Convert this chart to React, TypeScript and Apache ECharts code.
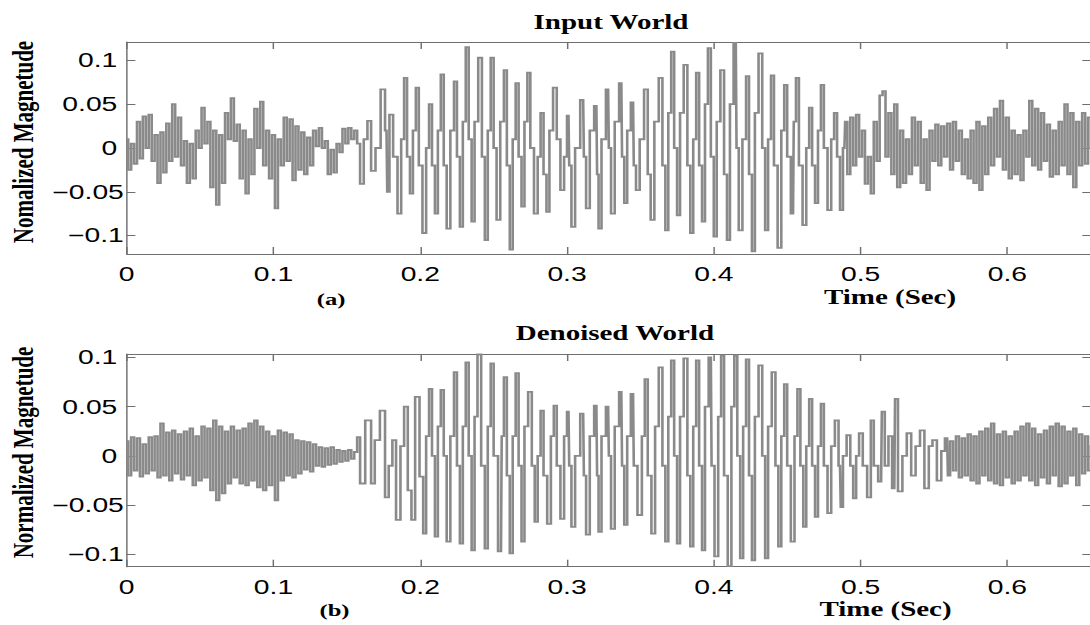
import React, { useEffect, useRef } from "react";
import * as echarts from "echarts";

// ---------- data ----------
const xTicks = [0, 0.1, 0.2, 0.3, 0.4, 0.5, 0.6];
const yTicks = [-0.1, -0.05, 0, 0.05, 0.1];
const T_MAX = 0.657;
const SAMPLE_STEP = 0.002;

// Input World: unvoiced noise 0 .. 0.158 s (one value per 2 ms)
const inputNoiseA = [
  0.010, -0.025, 0.005, -0.018, 0.030, -0.012, 0.036, 0.000, 0.038, -0.015,
  0.015, -0.040, 0.018, -0.028, 0.028, -0.015, 0.050, -0.010, 0.035, -0.020,
  0.008, -0.040, 0.005, -0.035, 0.020, 0.000, 0.046, 0.005, 0.030, -0.045,
  0.020, -0.065, 0.015, -0.040, 0.040, 0.010, 0.057, 0.008, 0.027, -0.035,
  0.020, -0.052, 0.010, -0.030, 0.045, 0.000, 0.053, -0.020, 0.020, -0.035,
  0.015, -0.069, 0.010, -0.020, 0.035, -0.015, 0.033, -0.037, 0.025, -0.025,
  0.018, -0.030, 0.012, -0.020, 0.020, 0.002, 0.023, 0.000, 0.008, -0.030,
  -0.002, -0.028, 0.005, -0.005, 0.022, 0.005, 0.023, 0.010, 0.020, 0.005,
];
// Input World: voiced part [time, value]
const inputVoiced = [
  [0.160, -0.041], [0.163, 0.010], [0.165, 0.031], [0.168, -0.026], [0.171, 0.000],
  [0.175, 0.067], [0.177, 0.020], [0.178, -0.050], [0.180, 0.038], [0.183, -0.010],
  [0.186, -0.075], [0.188, 0.010], [0.190, 0.080], [0.192, -0.010], [0.194, -0.052],
  [0.196, 0.020], [0.198, 0.069], [0.200, -0.020], [0.203, -0.097], [0.205, 0.000],
  [0.207, 0.050], [0.209, -0.020], [0.211, -0.075], [0.213, 0.020], [0.215, 0.084],
  [0.217, -0.020], [0.219, -0.092], [0.222, 0.020], [0.224, 0.076], [0.226, -0.010],
  [0.228, -0.090], [0.230, 0.030], [0.232, 0.115], [0.234, 0.010], [0.236, -0.084],
  [0.238, 0.030], [0.241, 0.103], [0.243, -0.010], [0.245, -0.105], [0.247, 0.020],
  [0.249, 0.103], [0.251, 0.000], [0.253, -0.082], [0.256, 0.030], [0.258, 0.089],
  [0.260, -0.020], [0.262, -0.116], [0.264, 0.010], [0.266, 0.074], [0.268, -0.010],
  [0.270, -0.067], [0.272, 0.030], [0.274, 0.086], [0.276, 0.000], [0.279, -0.075],
  [0.281, -0.010], [0.283, 0.040], [0.285, -0.030], [0.287, -0.073], [0.289, 0.020],
  [0.292, 0.069], [0.294, 0.010], [0.297, -0.048], [0.299, -0.010], [0.301, 0.037],
  [0.302, -0.020], [0.304, -0.090], [0.307, 0.000], [0.311, 0.055], [0.312, -0.010],
  [0.314, -0.069], [0.317, 0.020], [0.320, 0.048], [0.321, -0.030], [0.322, -0.092],
  [0.325, 0.010], [0.328, 0.067], [0.329, 0.000], [0.331, -0.075], [0.334, 0.030],
  [0.337, 0.074], [0.338, -0.010], [0.340, -0.063], [0.342, 0.020], [0.345, 0.052],
  [0.346, -0.020], [0.348, -0.048], [0.351, 0.010], [0.354, 0.067], [0.356, -0.030],
  [0.358, -0.082], [0.361, 0.030], [0.364, 0.080], [0.366, -0.020], [0.368, -0.094],
  [0.370, 0.040], [0.372, 0.110], [0.374, 0.000], [0.376, -0.077], [0.378, 0.040],
  [0.381, 0.095], [0.383, -0.020], [0.385, -0.097], [0.387, 0.010], [0.389, 0.086],
  [0.391, -0.020], [0.393, -0.084], [0.395, 0.050], [0.397, 0.114], [0.399, -0.010],
  [0.401, -0.101], [0.403, 0.030], [0.406, 0.089], [0.408, -0.030], [0.410, -0.105],
  [0.412, 0.050], [0.415, 0.120], [0.416, 0.000], [0.418, -0.094], [0.421, 0.010],
  [0.423, 0.082], [0.425, -0.030], [0.427, -0.118], [0.429, 0.040], [0.432, 0.108],
  [0.434, 0.000], [0.436, -0.094], [0.438, 0.010], [0.440, 0.083], [0.442, -0.020],
  [0.445, -0.114], [0.447, 0.020], [0.449, 0.072], [0.451, -0.010], [0.454, -0.075],
  [0.455, 0.030], [0.457, 0.080], [0.459, -0.020], [0.462, -0.088], [0.464, 0.000],
  [0.466, 0.046], [0.468, -0.020], [0.470, -0.063], [0.472, 0.020], [0.474, 0.072],
  [0.476, 0.000], [0.479, -0.071], [0.481, 0.010], [0.483, 0.040], [0.485, -0.010],
  [0.487, -0.071], [0.489, 0.000],
];
// Input World: unvoiced noise 0.490 .. 0.658 s
const inputNoiseBStart = 0.49;
const inputNoiseB = [
  0.030, -0.030, 0.035, -0.020, 0.038, -0.010, 0.020, -0.041, -0.010, -0.052,
  0.030, -0.015, 0.060, 0.065, -0.010, 0.040, -0.030, 0.050, -0.045, 0.020,
  -0.040, 0.010, -0.030, 0.035, -0.020, 0.030, -0.040, 0.010, -0.048, 0.020,
  -0.015, 0.027, -0.020, 0.025, -0.010, 0.028, -0.025, 0.030, -0.015, 0.020,
  -0.030, 0.010, -0.035, 0.020, -0.040, 0.030, -0.048, 0.025, -0.030, 0.035,
  -0.020, 0.045, -0.010, 0.054, -0.025, 0.035, -0.035, 0.020, -0.030, 0.015,
  -0.037, 0.020, -0.010, 0.054, -0.020, 0.045, -0.025, 0.040, -0.015, 0.027,
  -0.033, 0.020, -0.030, 0.030, -0.020, 0.050, -0.030, 0.040, -0.045, 0.030,
  -0.020, 0.040, -0.018, 0.035, 0.000,
];

// Denoised World: noise 0 .. 0.158 s
const denoisedNoiseA = [
  0.015, -0.020, 0.019, -0.015, 0.018, -0.021, 0.012, -0.018, 0.019, -0.015,
  0.020, -0.022, 0.033, -0.020, 0.024, -0.025, 0.026, -0.018, 0.022, -0.024,
  0.025, -0.020, 0.028, -0.030, 0.020, -0.025, 0.030, -0.022, 0.028, -0.035,
  0.036, -0.045, 0.030, -0.038, 0.025, -0.028, 0.030, -0.022, 0.026, -0.028,
  0.028, -0.030, 0.033, -0.025, 0.036, -0.032, 0.030, -0.035, 0.025, -0.030,
  0.020, -0.045, 0.026, -0.025, 0.024, -0.020, 0.022, -0.022, 0.016, -0.018,
  0.015, -0.014, 0.014, -0.016, 0.012, -0.010, 0.009, -0.011, 0.008, -0.009,
  0.009, -0.008, 0.006, -0.006, 0.005, -0.005, 0.006, -0.003, 0.004, 0.019,
];
// Denoised World: voiced part [time, value]
const denoisedVoiced = [
  [0.160, -0.028], [0.165, 0.036], [0.168, -0.028], [0.170, 0.016], [0.175, 0.046],
  [0.177, -0.042], [0.180, -0.010], [0.182, 0.016], [0.185, -0.065], [0.188, 0.010],
  [0.190, 0.050], [0.193, -0.035], [0.195, -0.065], [0.198, 0.060], [0.201, -0.021],
  [0.203, -0.079], [0.205, 0.020], [0.207, 0.068], [0.209, 0.000], [0.211, -0.082],
  [0.213, 0.030], [0.215, 0.067], [0.217, 0.000], [0.219, -0.087], [0.222, 0.020],
  [0.224, 0.085], [0.226, -0.010], [0.228, -0.089], [0.230, 0.030], [0.232, 0.095],
  [0.234, 0.000], [0.236, -0.096], [0.238, 0.040], [0.240, 0.103], [0.243, -0.010],
  [0.245, -0.094], [0.247, 0.030], [0.249, 0.094], [0.251, 0.000], [0.255, -0.097],
  [0.256, 0.020], [0.258, 0.080], [0.260, -0.020], [0.262, -0.099], [0.264, 0.020],
  [0.266, 0.084], [0.268, -0.010], [0.270, -0.087], [0.272, 0.030], [0.275, 0.065],
  [0.277, -0.010], [0.279, -0.067], [0.281, 0.000], [0.283, 0.046], [0.285, -0.020],
  [0.288, -0.069], [0.290, 0.020], [0.292, 0.051], [0.294, -0.010], [0.297, -0.064],
  [0.299, 0.020], [0.301, 0.045], [0.302, -0.010], [0.304, -0.072], [0.307, 0.000],
  [0.311, 0.043], [0.312, -0.020], [0.314, -0.080], [0.317, 0.020], [0.320, 0.051],
  [0.321, -0.020], [0.322, -0.077], [0.325, 0.020], [0.328, 0.050], [0.329, 0.000],
  [0.331, -0.074], [0.334, 0.030], [0.337, 0.065], [0.338, -0.010], [0.340, -0.070],
  [0.342, 0.020], [0.345, 0.063], [0.346, -0.010], [0.350, -0.060], [0.352, 0.020],
  [0.354, 0.078], [0.356, -0.020], [0.359, -0.079], [0.361, 0.030], [0.364, 0.090],
  [0.366, -0.010], [0.368, -0.087], [0.370, 0.040], [0.372, 0.097], [0.374, 0.000],
  [0.376, -0.089], [0.378, 0.040], [0.381, 0.099], [0.383, -0.020], [0.385, -0.092],
  [0.387, 0.030], [0.389, 0.097], [0.391, -0.010], [0.393, -0.096], [0.395, 0.050],
  [0.398, 0.100], [0.399, -0.010], [0.402, -0.102], [0.404, 0.040], [0.406, 0.102],
  [0.408, -0.020], [0.411, -0.112], [0.413, 0.050], [0.415, 0.102], [0.417, 0.000],
  [0.419, -0.104], [0.421, 0.030], [0.423, 0.098], [0.425, -0.020], [0.427, -0.106],
  [0.429, 0.040], [0.432, 0.092], [0.434, 0.000], [0.436, -0.104], [0.438, 0.030],
  [0.441, 0.085], [0.443, -0.010], [0.445, -0.092], [0.447, 0.020], [0.449, 0.073],
  [0.451, -0.010], [0.454, -0.087], [0.456, 0.020], [0.458, 0.068], [0.460, -0.010],
  [0.462, -0.072], [0.464, 0.010], [0.466, 0.058], [0.468, -0.010], [0.470, -0.062],
  [0.472, 0.010], [0.474, 0.053], [0.476, -0.010], [0.479, -0.058], [0.481, 0.010],
  [0.484, 0.036], [0.486, -0.010], [0.487, -0.052], [0.489, 0.000], [0.492, 0.021],
  [0.494, -0.010], [0.496, -0.043], [0.498, 0.000], [0.500, 0.023], [0.503, -0.010],
  [0.506, -0.042], [0.508, 0.036], [0.510, -0.010], [0.514, -0.026], [0.515, 0.045],
  [0.518, -0.010], [0.520, 0.020], [0.523, -0.033], [0.524, 0.058], [0.527, -0.036],
  [0.530, 0.000], [0.533, 0.023], [0.536, -0.020], [0.539, 0.010], [0.542, 0.026],
  [0.545, -0.033], [0.548, 0.010], [0.550, 0.016], [0.554, -0.025], [0.556, 0.005],
  [0.559, 0.018],
];
// Denoised World: noise 0.560 .. 0.658 s
const denoisedNoiseBStart = 0.56;
const denoisedNoiseB = [
  -0.020, 0.015, -0.015, 0.020, -0.022, 0.018, -0.020, 0.022, -0.025, 0.020,
  -0.028, 0.025, -0.020, 0.028, -0.025, 0.033, -0.028, 0.022, -0.030, 0.025,
  -0.022, 0.020, -0.028, 0.025, -0.025, 0.030, -0.020, 0.033, -0.025, 0.028,
  -0.030, 0.022, -0.022, 0.026, -0.028, 0.030, -0.020, 0.033, -0.031, 0.030,
  -0.028, 0.025, -0.020, 0.028, -0.030, 0.022, -0.018, 0.020, -0.015, 0.010,
];

// ---------- layout (drawn narrow, then stretched horizontally like the source) ----------
const STRETCH = 1.45;
const BASE_W = 752;
const PAGE_H = 625;
const AXIS_COLOR = "#6f6f6f";
const WAVE_COLOR = "#8a8a8a";

function sampled(start: number, values: number[]) {
  return values.map((v, i) => [Number((start + i * SAMPLE_STEP).toFixed(4)), v]);
}

const inputData = [
  ...sampled(0, inputNoiseA),
  ...inputVoiced,
  ...sampled(inputNoiseBStart, inputNoiseB),
];
const denoisedData = [
  ...sampled(0, denoisedNoiseA),
  ...denoisedVoiced,
  ...sampled(denoisedNoiseBStart, denoisedNoiseB),
];

const tickFont = "Liberation Sans, Arial, Helvetica, sans-serif";
const serifFont = '"Liberation Serif", "Times New Roman", serif';

function xAxisPair(gridIndex: number) {
  const common = {
    gridIndex,
    type: "value",
    min: 0,
    max: T_MAX,
    splitLine: { show: false },
    axisLine: { show: true, onZero: false, lineStyle: { color: AXIS_COLOR, width: 1 } },
    axisTick: { show: true, inside: true, length: 7, customValues: xTicks, lineStyle: { color: AXIS_COLOR, width: 1 } },
  };
  return [
    {
      ...common,
      position: "bottom",
      axisLabel: {
        show: true,
        customValues: xTicks,
        margin: 10,
        color: "#000",
        fontFamily: tickFont,
        fontSize: 19.5,
        formatter: (v: number) => String(Number(v.toFixed(2))),
      },
    },
    { ...common, position: "top", axisLabel: { show: false } },
  ];
}

function yAxisPair(gridIndex: number, min: number, max: number) {
  const common = {
    gridIndex,
    type: "value",
    min,
    max,
    splitLine: { show: false },
    axisLine: { show: true, onZero: false, lineStyle: { color: AXIS_COLOR, width: 1 } },
    axisTick: { show: true, inside: true, length: 6, customValues: yTicks, lineStyle: { color: AXIS_COLOR, width: 1 } },
  };
  const rs = { fontFamily: tickFont, fontSize: 19.5, color: "#000" };
  return [
    {
      ...common,
      position: "left",
      axisLabel: {
        show: true,
        customValues: yTicks,
        margin: 2,
        formatter: (v: number) => {
          const n = Number(v.toFixed(3));
          return n < 0 ? "{n|\u2212" + String(-n) + "}" : "{p|" + String(n) + "}";
        },
        rich: {
          n: { ...rs },
          p: { ...rs, padding: [0, 4.5, 0, 0] },
        },
      },
    },
    { ...common, position: "right", axisLabel: { show: false } },
  ];
}

function label(text: string, x: number, y: number, size: number, rotation = 0) {
  return {
    type: "text",
    x,
    y,
    rotation,
    silent: true,
    style: {
      text,
      x: 0,
      y: 0,
      fill: "#000",
      font: `bold ${size}px ${serifFont}`,
      align: "center",
      verticalAlign: "middle",
      textAlign: "center",
      textVerticalAlign: "middle",
    },
  };
}

export default function App() {
  const ref = useRef<HTMLDivElement | null>(null);

  useEffect(() => {
    document.body.style.margin = "0";
    document.body.style.overflow = "hidden";
    if (!ref.current) return;
    const chart = echarts.init(ref.current, null, { renderer: "svg" });

    const waveStyle = { color: WAVE_COLOR, width: 1.8, join: "miter" };
    const option = {
      animation: false,
      backgroundColor: "#ffffff",
      grid: [
        { left: 87.4, top: 42, width: 665, height: 212, outerBoundsMode: "none", containLabel: false },
        { left: 87.4, top: 354, width: 665, height: 212.7, outerBoundsMode: "none", containLabel: false },
      ],
      xAxis: [...xAxisPair(0), ...xAxisPair(1)],
      yAxis: [...yAxisPair(0, -0.121, 0.121), ...yAxisPair(1, -0.1125, 0.1035)],
      series: [
        {
          name: "Input World",
          type: "line",
          xAxisIndex: 0,
          yAxisIndex: 0,
          data: inputData,
          step: "middle",
          symbol: "none",
          showSymbol: false,
          silent: true,
          clip: true,
          lineStyle: waveStyle,
        },
        {
          name: "Denoised World",
          type: "line",
          xAxisIndex: 2,
          yAxisIndex: 2,
          data: denoisedData,
          step: "middle",
          symbol: "none",
          showSymbol: false,
          silent: true,
          clip: true,
          lineStyle: waveStyle,
        },
      ],
      graphic: [
        label("Input World", 421.4, 21.7, 20),
        label("Denoised World", 424.1, 333.5, 20),
        label("(a)", 228.3, 299, 17),
        label("Time (Sec)", 613.8, 297, 20),
        label("(b)", 230.7, 610, 17),
        label("Time (Sec)", 610.7, 609, 20),
        label("Nomalized Magnetude", 15.9, 142, 21, Math.PI / 2),
        label("Normalized Magnetude", 15.9, 452.5, 21, Math.PI / 2),
      ],
    };

    chart.setOption(option as any);
    return () => {
      chart.dispose();
    };
  }, []);

  return (
    <div style={{ width: 1090, height: PAGE_H, overflow: "hidden", background: "#fff" }}>
      <div
        ref={ref}
        style={{
          width: BASE_W,
          height: PAGE_H,
          transform: `scaleX(${STRETCH})`,
          transformOrigin: "0 0",
        }}
      />
    </div>
  );
}
